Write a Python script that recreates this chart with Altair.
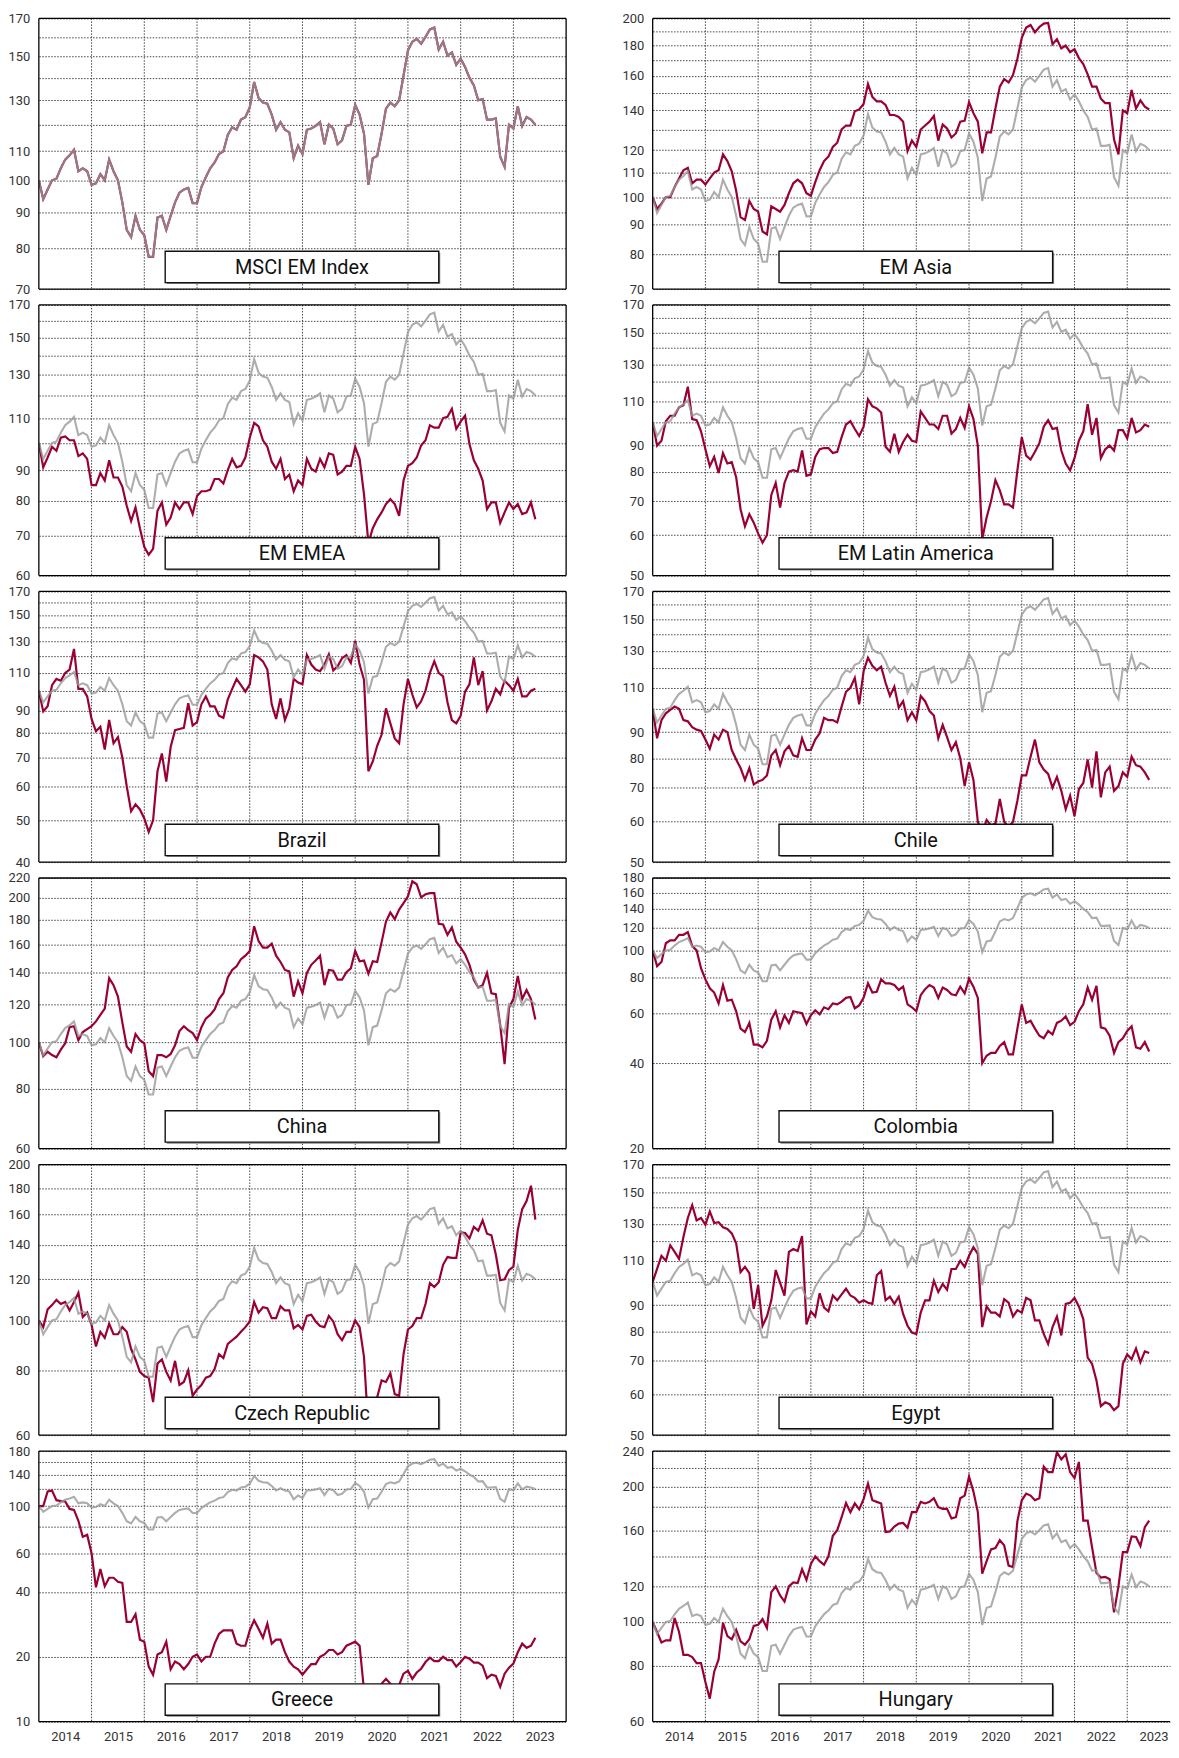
import altair as alt
import pandas as pd

START = 2014
PX_PER_YEAR = 53
W_LEFT = 530
W_RIGHT = 520
H = 272
VSPACE = 16
HSPACE = 87

GRID_COLOR = "#444444"
RED = "#990033"
GRAY = "#999999"
FONT = "Roboto"

# ---------------- data (monthly index, start = 100) ----------------
msci_em = [100, 94, 97, 100, 100.5, 104, 107, 108.5, 110.5, 103, 104, 103,
           98.5, 99, 102, 100, 107, 103, 100, 93, 85, 83, 89, 85,
           83.5, 77.8, 77.8, 88.5, 89, 85, 89, 93, 96, 97, 97.5, 92.8,
           92.8, 97.8, 101, 104, 106, 109, 110, 116, 119, 118, 122, 123,
           127, 138, 131, 129, 128.5, 124, 118, 121, 118, 117, 107.5, 112,
           109, 118, 118.5, 119.5, 121, 112.5, 120, 118.5, 112.5, 114, 119.5, 120,
           128, 124, 116.5, 98.5, 107.5, 108.3, 116.5, 126.5, 129, 127.5, 130, 141,
           153, 157.5, 159, 156.5, 160, 164, 165, 153.5, 157.5, 150.5, 152, 146,
           149, 145, 140, 136.5, 130, 130.5, 122, 122, 122.5, 108, 104.5, 120,
           118.5, 127.5, 119.5, 123, 122, 120]

em_asia = [100, 95.5, 97.5, 100, 100, 104, 107.5, 111, 112, 105.5, 107, 107,
           105, 107.5, 110, 111, 118, 115, 110.5, 102.5, 92.5, 91.5, 98.5, 95.5,
           94.5, 87.5, 86.5, 96.5, 95.5, 94.5, 97, 101.5, 105.5, 107, 105.5, 101.5,
           100.5, 106, 111, 115, 117, 121.5, 123.5, 130, 132, 132, 139.5, 140.5,
           143.5, 155, 147.5, 145, 145, 143, 137.5, 137.5, 136.5, 134, 119.5, 124.5,
           121.5, 130, 132, 134, 137, 124.5, 132.5, 130.5, 126, 128, 134, 134.5,
           144.5, 138.5, 134, 118.5, 128.5, 128.5, 141, 153.5, 158, 156, 160.5, 171,
           185.5, 193, 195, 189.5, 193.5, 196, 196.5, 181, 184.5, 178, 180, 175.5,
           177.5, 171.5, 167.5, 161, 153.5, 153.5, 146.5, 144, 144, 125, 118, 140,
           138.5, 151.5, 141, 145.5, 142, 140.5]

em_emea = [100, 91, 94.5, 98.5, 97, 102, 102.5, 101, 101, 95, 96, 94,
           85, 85, 89, 86.5, 93.5, 87.5, 87.5, 84.5, 78.5, 74, 78, 72,
           67, 65, 66.5, 77, 79.5, 73, 75, 79.5, 77.5, 79.5, 79.5, 76,
           81.5, 83, 83, 83.5, 87, 87, 85.5, 90, 94, 91, 91.5, 94.5,
           102, 108, 106.5, 101, 98.5, 93, 90.5, 94, 87, 88.5, 83, 86.5,
           85, 94, 90.5, 89.5, 94, 91, 96, 95.5, 88.5, 89.5, 91.5, 91.5,
           98.5, 94, 82, 68, 72, 74.5, 76.5, 79, 80.5, 79, 75.5, 86.5,
           91.5, 92.5, 94.5, 99, 101, 107, 106, 106, 110, 110.5, 114, 105.5,
           108.5, 111, 99.5, 93.5, 90.5, 86.5, 77.5, 79.5, 79.5, 73.5, 76.5, 79.5,
           77.5, 79, 76, 76.5, 79.5, 74.5]

em_latam = [100, 90, 92, 100.5, 103, 103, 107, 108, 117.5, 101.5, 101, 96,
            88.5, 82, 85.5, 79.5, 87, 83, 83.5, 78, 67.5, 62.5, 66, 63.5,
            60.5, 58, 60, 72, 76, 68, 76, 80, 80.5, 80, 88, 78.5,
            79, 85.5, 88.5, 89, 89, 87, 87.5, 93.5, 99, 100.5, 97, 94,
            98, 111, 107.5, 106.5, 104.5, 89.5, 87.5, 95, 87.5, 91.5, 94.5, 92,
            91.5, 105, 102, 99, 99, 97, 103, 103, 95, 97, 102, 97.5,
            107.5, 101.5, 90, 59, 65, 70, 77, 73.5, 69, 69, 68, 80.5,
            93.5, 86, 84.5, 87.5, 91, 98, 101, 97, 97.5, 88, 83, 80.5,
            85, 92, 96, 108.5, 94.5, 102, 85, 88.5, 90, 88, 96.5, 96.5,
            93, 102, 95.5, 96.5, 99, 98]

brazil = [100, 89.5, 92, 103, 106.5, 105.5, 110, 112, 125, 101, 101, 97,
          86, 80.5, 82.5, 73, 85.5, 75.5, 78, 70, 60, 52.5, 54.5, 53,
          50.5, 47, 50, 65, 71.5, 61.5, 74, 81, 81.5, 82, 93.5, 83,
          84.5, 93, 97, 92, 92, 87.5, 86.5, 95.5, 101, 106.5, 103, 99.5,
          103.5, 121, 119.5, 117, 112, 93, 86, 96, 85.5, 91, 106.5, 104.5,
          103.5, 121, 115, 112, 111, 115, 121.5, 111.5, 114, 119, 121, 116,
          130.5, 115, 106, 65, 68.5, 74.5, 79, 91, 84, 77.5, 75.5, 93,
          106.5, 98, 91.5, 94.5, 100, 110, 117, 110, 108, 94, 85.5, 84,
          87.5, 99.5, 103.5, 119.5, 103, 111, 90, 94.5, 101, 98, 105.5, 103,
          100, 106.5, 97, 97, 100, 101]

chile = [100, 87.5, 95, 98, 99.5, 101, 100, 95, 94.5, 92, 91, 90.5,
         87, 83.5, 89, 87, 91, 90, 83, 79.5, 76.5, 72.5, 76.5, 71,
         72, 72.5, 74, 81, 83, 77.5, 82.5, 84.5, 81, 80.5, 87.5, 83,
         83, 87, 89.5, 96, 95, 95, 94, 101, 108, 110, 115, 102,
         118.5, 126, 121.5, 119, 121, 112.5, 106, 110.5, 100.5, 103.5, 95, 98.5,
         95, 106, 103.5, 99, 97, 87.5, 93, 88, 83, 86, 80, 70.5,
         78.5, 72.5, 60, 57, 60.5, 59, 59.5, 66.5, 60, 58.5, 60, 66,
         74, 74, 80.5, 87, 78.5, 76, 74.5, 70, 73.5, 69, 63.5, 67.5,
         61.5, 69.5, 71.5, 79.5, 70, 82.5, 67, 75, 77, 69, 70.5, 75,
         73.5, 80.5, 77.5, 77, 75, 72.5]

china = [100, 93.5, 95.5, 94, 93, 96.5, 99.5, 107.5, 108, 101, 105, 106.5,
         108, 110.5, 114, 117.5, 136, 131.5, 124.5, 110, 98, 95.5, 104, 101,
         99.5, 87, 85, 94, 94, 93, 94.5, 98.5, 105.5, 108, 106, 104.5,
         101, 107.5, 112, 114, 117, 123, 126.5, 136.5, 141.5, 144, 149, 151.5,
         155, 174.5, 162.5, 157.5, 157.5, 160.5, 151.5, 147, 141.5, 140.5, 124.5, 134,
         126.5, 139.5, 145, 148, 151.5, 131.5, 141.5, 141, 135, 135, 140, 142.5,
         155, 147.5, 148, 139, 147.5, 147, 161.5, 178.5, 186.5, 180.5, 189, 195,
         201.5, 216.5, 213.5, 200.5, 203.5, 204.5, 204.5, 176.5, 176, 167.5, 173.5, 162,
         157.5, 152.5, 145, 135, 130, 131.5, 139.5, 126.5, 126, 108.5, 90, 118,
         123, 137.5, 123, 128.5, 123, 111.5]

colombia = [100, 88, 91, 106, 108.5, 108.5, 113.5, 113.5, 116, 103.5, 100, 86.5,
            79, 73.5, 71, 65, 75.5, 66.5, 67, 61, 53, 51.5, 55.5, 46.5,
            46.5, 45.5, 48, 57, 61, 53.5, 59, 55.5, 61, 60.5, 60, 55,
            59, 61.5, 59.5, 63, 62, 65, 64.5, 66, 68, 68.5, 62.5, 64,
            68, 76.5, 71, 71.5, 79, 76.5, 76.5, 75.5, 72.5, 74.5, 64.5, 63,
            61, 69.5, 73, 75.5, 74, 68, 74, 72.5, 70, 69.5, 74.5, 70.5,
            79.5, 74.5, 68, 40, 42.5, 43.5, 43.5, 46, 47.5, 43, 43, 53,
            64.5, 55.5, 56.5, 53, 50, 49, 52, 50.5, 55.5, 56.5, 58.5, 54.5,
            56, 61, 64.5, 74, 67, 75, 53.5, 53, 50, 43.5, 47.5, 49,
            52, 54, 45.5, 45, 47.5, 44]

czech = [100, 97, 105, 107, 109.5, 107.5, 108.5, 104.5, 108.5, 113, 101.5, 103.5,
         98, 89, 95, 92.5, 98.5, 94, 94, 97, 95, 88, 84, 79.5,
         78, 77.5, 69.5, 82.5, 84, 79.5, 76.5, 83.5, 75, 76, 80, 71.5,
         73.5, 75, 77.5, 78, 80.5, 86, 84.5, 90, 91.5, 93, 95, 97,
         99.5, 108.5, 103.5, 106, 105.5, 101, 101, 106.5, 104.5, 104.5, 96.5, 98,
         96, 102, 102.5, 99.5, 97.5, 97, 102, 99.5, 94, 91.5, 95, 95,
         100, 97, 85, 61.5, 67, 71, 76.5, 76, 79, 72, 71.5, 86,
         96, 97.5, 101, 101, 107.5, 118, 116, 118.5, 128, 132.5, 132, 132,
         148, 147.5, 144, 151.5, 149, 156, 147, 146, 134, 119.5, 120, 125,
         127, 149.5, 164, 170, 182, 156.5]

egypt = [100, 106, 112.5, 110, 118, 114.5, 111, 122.5, 133.5, 141.5, 132, 133.5,
         129.5, 137.5, 130.5, 131, 128, 127, 124.5, 119, 104.5, 107, 104, 88.5,
         98.5, 82, 85.5, 92, 105.5, 99.5, 94, 114.5, 116, 115, 123, 82.5,
         87.5, 85.5, 95, 89, 87.5, 94, 92, 94.5, 97, 94, 93, 91,
         92, 91, 90.5, 103, 105, 92, 93.5, 90.5, 93.5, 86.5, 82, 79.5,
         79, 87, 92, 92, 100.5, 95.5, 99, 96.5, 106, 106, 110, 107,
         112.5, 117, 113.5, 81.5, 89.5, 87, 87, 85.5, 92.5, 91, 85.5, 88,
         87, 93, 92, 84, 84, 79, 75.5, 81.5, 85.5, 78.5, 90.5, 91,
         93, 89.5, 84.5, 71, 69, 64, 57, 58, 57.5, 56, 57, 69,
         72, 70.5, 74, 69.5, 73, 72.5]

greece = [100, 100, 117, 118, 106.5, 105.5, 105, 97, 96, 85.5, 72, 73.5,
          60.5, 42, 51, 42.5, 46.5, 46.5, 44.5, 44, 29, 29, 31.5, 24,
          23.5, 18, 16.5, 20.5, 21, 23.5, 17.5, 19, 18.5, 17.5, 18.5, 20,
          20.5, 19, 20, 20, 23, 25.5, 26.5, 26.5, 26.5, 23, 22.5, 22.5,
          26.5, 29.5, 27, 24.5, 28.5, 23, 24, 24, 21, 19, 18, 17.5,
          16.5, 17.5, 18.5, 18.5, 20, 20.5, 21.5, 21.5, 20.5, 21, 22.5, 23,
          23.5, 22.5, 14, 13.3, 13.8, 14.3, 15, 15.8, 15, 14.5, 14.8, 16.7,
          17.2, 15.8, 16.9, 17.6, 18.9, 19.8, 19.1, 19.1, 20, 19.3, 19.3, 18,
          18.9, 20, 19.6, 18.8, 18.8, 18.2, 15.9, 16.5, 16.3, 14.5, 16.7, 17.8,
          18.6, 21, 23, 22, 22.5, 24.5]

hungary = [100, 95, 90, 91, 91, 102, 95, 84.5, 84.5, 83.5, 81, 81,
           73.5, 67.5, 77.5, 82.5, 99.5, 93, 91.5, 96, 90.5, 89, 91.5, 98,
           98.5, 101.5, 97, 116.5, 120, 114.5, 111, 120, 122.5, 122, 131, 124,
           134.5, 140, 136.5, 134, 140, 155.5, 160, 171, 184, 175.5, 183.5, 178,
           187.5, 203, 186.5, 185, 183.5, 158.5, 159, 163, 165.5, 166, 162, 175.5,
           175.5, 185, 183.5, 185, 188.5, 180, 178.5, 178.5, 170, 171, 188.5, 191,
           210.5, 195, 175.5, 128, 136.5, 145, 146, 152, 148, 133.5, 132.5, 167.5,
           186.5, 193, 191, 186.5, 188.5, 221.5, 215.5, 215.5, 238.5, 230, 236, 215.5,
           209, 227, 168, 168, 146.5, 128.5, 125.5, 126, 124.5, 105, 120, 143,
           143, 155, 154.5, 147.5, 162.5, 168]

year_labels = list(range(2014, 2024))
year_lines = list(range(2015, 2025))

# (name, series, y-domain, grid values, labelled values)
left_panels = [
    ("MSCI EM Index", msci_em, [70, 170], [80, 90, 100, 110, 120, 130, 140, 150, 160],
     [70, 80, 90, 100, 110, 130, 150, 170]),
    ("EM EMEA", em_emea, [60, 170], [70, 80, 90, 100, 110, 120, 130, 140, 150, 160],
     [60, 70, 80, 90, 110, 130, 150, 170]),
    ("Brazil", brazil, [40, 170], [50, 60, 70, 80, 90, 100, 110, 120, 130, 140, 150, 160],
     [40, 50, 60, 70, 80, 90, 110, 130, 150, 170]),
    ("China", china, [60, 220], [80, 100, 120, 140, 160, 180, 200],
     [60, 80, 100, 120, 140, 160, 180, 200, 220]),
    ("Czech Republic", czech, [60, 200], [80, 100, 120, 140, 160, 180],
     [60, 80, 100, 120, 140, 160, 180, 200]),
    ("Greece", greece, [10, 180], [20, 40, 60, 80, 100, 120, 140, 160],
     [10, 20, 40, 60, 100, 140, 180]),
]
right_panels = [
    ("EM Asia", em_asia, [70, 200], [80, 90, 100, 110, 120, 130, 140, 150, 160, 170, 180, 190],
     [70, 80, 90, 100, 110, 120, 140, 160, 180, 200]),
    ("EM Latin America", em_latam, [50, 170], [60, 70, 80, 90, 100, 110, 120, 130, 140, 150, 160],
     [50, 60, 70, 80, 90, 110, 130, 150, 170]),
    ("Chile", chile, [50, 170], [60, 70, 80, 90, 100, 110, 120, 130, 140, 150, 160],
     [50, 60, 70, 80, 90, 110, 130, 150, 170]),
    ("Colombia", colombia, [20, 180], [40, 60, 80, 100, 120, 140, 160],
     [20, 40, 60, 80, 100, 120, 140, 160, 180]),
    ("Egypt", egypt, [50, 170], [60, 70, 80, 90, 100, 110, 120, 130, 140, 150, 160],
     [50, 60, 70, 80, 90, 110, 130, 150, 170]),
    ("Hungary", hungary, [60, 240], [80, 100, 120, 140, 160, 180, 200, 220],
     [60, 80, 100, 120, 160, 200, 240]),
]


def make_panel(name, values, ydom, grid_vals, label_vals, width, bottom, right_border):
    n = min(len(values), len(msci_em))
    t = [START + i / 12 for i in range(n)]
    df_red = pd.DataFrame({"t": t, "v": values[:n]})
    df_gray = pd.DataFrame({"t": t, "v": msci_em[:n]})
    xmax = START + width / PX_PER_YEAR

    xscale = alt.Scale(domain=[START, xmax], nice=False, zero=False)
    yscale = alt.Scale(type="log", domain=ydom, nice=False)

    if bottom:
        xaxis = alt.Axis(values=[y + 0.5 for y in year_labels],
                         labelExpr="format(floor(datum.value), 'd')",
                         ticks=False, tickSize=0, grid=False, domain=False,
                         labelPadding=9, labelFlush=False, labelOverlap=False,
                         labelAngle=0, title=None)
    else:
        xaxis = alt.Axis(labels=False, ticks=False, tickSize=0, grid=False,
                         domain=False, title=None)

    lab = ",".join(str(v) for v in label_vals)
    yaxis = alt.Axis(values=sorted(set(grid_vals + label_vals)),
                     labelExpr=f"indexof([{lab}], datum.value) >= 0 ? format(datum.value, 'd') : ''",
                     grid=True, gridColor=GRID_COLOR, gridDash=[1.5, 1.5], gridWidth=1,
                     ticks=False, tickSize=0, domain=False, labelPadding=9,
                     labelOverlap=False, labelFlush=False, title=None)

    X = alt.X("t:Q", scale=xscale, axis=xaxis)
    Y = alt.Y("v:Q", scale=yscale, axis=yaxis)

    vgrid = alt.Chart(pd.DataFrame({"t": [y for y in year_lines if y < xmax - 0.01]})).mark_rule(
        color=GRID_COLOR, strokeDash=[1.5, 1.5], strokeWidth=1).encode(x=X)
    red = alt.Chart(df_red).mark_line(color=RED, strokeWidth=2.2, clip=True).encode(x=X, y=Y)
    gray = alt.Chart(df_gray).mark_line(color=GRAY, strokeWidth=2.1, opacity=0.8,
                                        clip=True).encode(x=X, y=Y)

    one = pd.DataFrame({"name": [name]})
    bx0, bx1 = 127, 402
    by0, by1 = H - 38, H - 6.5
    shadow = alt.Chart(one).mark_rect(color="#8a8a8a").encode(
        x=alt.value(bx0 + 1.5), x2=alt.value(bx1 + 1.5),
        y=alt.value(by0 + 1.5), y2=alt.value(by1 + 1.5))
    box = alt.Chart(one).mark_rect(fill="white", stroke="#111", strokeWidth=1.4).encode(
        x=alt.value(bx0), x2=alt.value(bx1), y=alt.value(by0), y2=alt.value(by1))
    text = alt.Chart(one).mark_text(font=FONT, fontSize=20, color="#111",
                                    align="center", baseline="middle").encode(
        x=alt.value((bx0 + bx1) / 2), y=alt.value((by0 + by1) / 2 + 1),
        text=alt.Text("name:N"))

    border = alt.Chart(one).mark_rule(color="black", strokeWidth=1.3)
    top = border.encode(x=alt.value(0), x2=alt.value(width), y=alt.value(0))
    bot = border.encode(x=alt.value(0), x2=alt.value(width), y=alt.value(H))
    left = border.encode(x=alt.value(0), y=alt.value(0), y2=alt.value(H))
    layers = [vgrid, red, gray, shadow, box, text, top, bot, left]
    if right_border:
        layers.append(border.encode(x=alt.value(width), y=alt.value(0), y2=alt.value(H)))
    return alt.layer(*layers).properties(width=width, height=H)


cells = []
for i in range(len(left_panels)):
    last = i == len(left_panels) - 1
    cells.append(make_panel(*left_panels[i], width=W_LEFT, bottom=last, right_border=True))
    cells.append(make_panel(*right_panels[i], width=W_RIGHT, bottom=last, right_border=False))

chart = alt.concat(*cells, columns=2, spacing={"row": VSPACE, "column": HSPACE},
                   bounds="flush").properties(
    padding=0
).configure_view(strokeWidth=0).configure_axis(
    labelFont=FONT, labelFontSize=13, labelColor="#333333"
)

chart.save("out.html", embed_options={"renderer": "svg", "actions": False})
